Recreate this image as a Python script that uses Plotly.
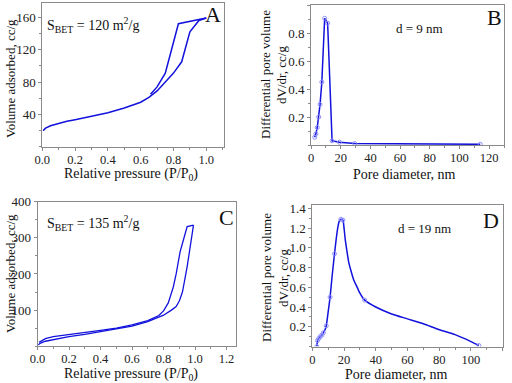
import plotly.graph_objects as go

W, H = 512, 383

# ---------------- data ----------------
# Panel A: N2 isotherm (sample 1)
a_ads_p = [0.005, 0.02, 0.05, 0.1, 0.15, 0.2, 0.3, 0.4, 0.5, 0.6, 0.65, 0.7, 0.75, 0.8, 0.85, 0.9, 0.955, 1.0]
a_ads_v = [20, 23, 26, 29, 31.5, 33.5, 37.5, 42, 48, 55, 61, 69, 80, 91, 105, 142, 156, 159]
a_des_p = [1.0, 0.83, 0.75, 0.70, 0.66]
a_des_v = [159, 152, 91, 74, 65]

# Panel B: pore size distribution (sample 1)
b_d = [2.5, 3.3, 4.2, 5.2, 6.1, 7.3, 9.2, 11.2, 14.2, 19.2, 29.5, 114]
b_dv = [0.055, 0.08, 0.125, 0.2, 0.29, 0.45, 0.905, 0.87, 0.03, 0.02, 0.01, 0.005]

# Panel C: N2 isotherm (sample 2)
c_ads_p = [0.005, 0.02, 0.05, 0.1, 0.2, 0.3, 0.4, 0.5, 0.6, 0.7, 0.75, 0.8, 0.85, 0.88, 0.9, 0.92, 0.95, 0.97, 0.99]
c_ads_v = [4, 9, 14, 19, 27, 33, 40, 47, 56, 68, 76, 86, 100, 110, 125, 150, 220, 280, 335]
c_des_p = [0.99, 0.95, 0.93, 0.905, 0.88, 0.862, 0.83, 0.8, 0.77, 0.7, 0.6, 0.5, 0.4, 0.3, 0.2, 0.1, 0.05, 0.01]
c_des_v = [335, 331, 300, 261, 200, 164, 120, 98, 85, 71, 59, 50, 44, 38, 33, 27, 21, 11]

# Panel D: pore size distribution (sample 2)
d_d = [2.9, 3.3, 4.0, 5.0, 6.0, 7.0, 8.0, 8.8, 10, 11.2, 12.6, 14, 15, 16, 17, 18, 19.3, 20, 20.8, 21.8,
       23, 24.5, 26, 28, 30, 33, 40, 50, 60, 70, 80, 90, 100, 105]
d_dv = [0.0, 0.06, 0.08, 0.10, 0.115, 0.14, 0.17, 0.21, 0.35, 0.5, 0.73, 0.94, 1.08, 1.2, 1.27, 1.29, 1.28, 1.2,
        1.08, 0.97, 0.85, 0.76, 0.68, 0.61, 0.54, 0.47, 0.40, 0.33, 0.28, 0.23, 0.17, 0.12, 0.05, 0.01]
d_mark_d = [2.9, 3.3, 4.0, 5.0, 6.0, 7.0, 8.8, 11.2, 14, 18, 19.3, 33, 105]
d_mark_dv = [0.0, 0.06, 0.08, 0.10, 0.115, 0.14, 0.21, 0.5, 0.94, 1.29, 1.28, 0.47, 0.01]

# ---------------- style ----------------
BLUE = "#1212dc"
MARK = "#8f8fff"
FONT = "Liberation Serif"
AX = "#8a8a8a"

def px_x(a, b):
    return [a / W, b / W]

def px_y(top, bottom):
    return [1 - bottom / H, 1 - top / H]

fig = go.Figure()

line = dict(color=BLUE, width=1.5)
fig.add_trace(go.Scatter(x=a_ads_p, y=a_ads_v, mode="lines", line=line, xaxis="x", yaxis="y"))
fig.add_trace(go.Scatter(x=a_des_p, y=a_des_v, mode="lines", line=line, xaxis="x", yaxis="y"))

fig.add_trace(go.Scatter(x=b_d, y=b_dv, mode="lines+markers", line=line,
                         marker=dict(symbol="circle-open", size=4, color=MARK, line=dict(width=1, color=MARK)),
                         xaxis="x2", yaxis="y2"))

fig.add_trace(go.Scatter(x=c_ads_p, y=c_ads_v, mode="lines", line=dict(color=BLUE, width=1.3), xaxis="x3", yaxis="y3"))
fig.add_trace(go.Scatter(x=c_des_p, y=c_des_v, mode="lines", line=dict(color=BLUE, width=1.3), xaxis="x3", yaxis="y3"))

fig.add_trace(go.Scatter(x=d_d, y=d_dv, mode="lines", line=dict(color=BLUE, width=1.5, shape="spline", smoothing=0.6),
                         xaxis="x4", yaxis="y4"))
fig.add_trace(go.Scatter(x=d_mark_d, y=d_mark_dv, mode="markers",
                         marker=dict(symbol="circle-open", size=4, color=MARK, line=dict(width=1, color=MARK)),
                         xaxis="x4", yaxis="y4"))

def axis(domain, rng, anchor, **kw):
    d = dict(domain=domain, range=rng, anchor=anchor, showgrid=False, zeroline=False, automargin=False,
             showline=True, linecolor=AX, linewidth=1, mirror=True,
             ticks="outside", ticklen=3, tickcolor=AX, tickwidth=1,
             tickfont=dict(family=FONT, size=13, color="#222"))
    d.update(kw)
    return d

XS = dict(ticklabelstandoff=-2, tickfont=dict(family=FONT, size=12.5, color="#222"))

fig.update_layout(
    template="none",
    width=W, height=H, margin=dict(l=0, r=0, t=0, b=0, pad=0),
    paper_bgcolor="white", plot_bgcolor="white", showlegend=False,
    xaxis=axis(px_x(42.3, 224), [0, 1.108], "y", tickvals=[0, 0.2, 0.4, 0.6, 0.8, 1.0],
               ticktext=["0.0", "0.2", "0.4", "0.6", "0.8", "1.0"],
               minor=dict(ticks="outside", ticklen=2, dtick=0.1, tick0=0, tickcolor=AX), **XS),
    yaxis=axis(px_y(2.7, 146.8), [0, 178], "x", tickvals=[40, 80, 120, 160],
               minor=dict(ticks="outside", ticklen=2, dtick=20, tick0=0, tickcolor=AX)),
    xaxis2=axis(px_x(311, 504), [0, 130], "y2", tickvals=[0, 20, 40, 60, 80, 100, 120],
                minor=dict(ticks="outside", ticklen=2, dtick=10, tick0=0, tickcolor=AX), **XS),
    yaxis2=axis(px_y(5, 145), [0, 1.0], "x2", tickvals=[0.2, 0.4, 0.6, 0.8, 1.0],
                ticktext=["0.2", "0.4", "0.6", "0.8", "1.0"],
                minor=dict(ticks="outside", ticklen=2, dtick=0.1, tick0=0, tickcolor=AX)),
    xaxis3=axis(px_x(37.5, 235.7), [0, 1.258], "y3", tickvals=[0, 0.2, 0.4, 0.6, 0.8, 1.0, 1.2],
                ticktext=["0.0", "0.2", "0.4", "0.6", "0.8", "1.0", "1.2"],
                minor=dict(ticks="outside", ticklen=2, dtick=0.1, tick0=0, tickcolor=AX), **XS),
    yaxis3=axis(px_y(201.6, 346.3), [0, 400], "x3", tickvals=[100, 200, 300, 400],
                minor=dict(ticks="outside", ticklen=2, dtick=50, tick0=0, tickcolor=AX)),
    xaxis4=axis(px_x(312.3, 502.7), [0, 120], "y4", tickvals=[0, 20, 40, 60, 80, 100, 120],
                minor=dict(ticks="outside", ticklen=2, dtick=10, tick0=0, tickcolor=AX), **XS),
    yaxis4=axis(px_y(205, 346.5), [0, 1.434], "x4", tickvals=[0.2, 0.4, 0.6, 0.8, 1.0, 1.2, 1.4],
                ticktext=["0.2", "0.4", "0.6", "0.8", "1.0", "1.2", "1.4"],
                minor=dict(ticks="outside", ticklen=2, dtick=0.1, tick0=0, tickcolor=AX)),
)

def ann(text, x, y, size, angle=0, xanchor="center", yanchor="middle"):
    fig.add_annotation(text=text, x=x / W, y=1 - y / H, xref="paper", yref="paper",
                       showarrow=False, textangle=angle, xanchor=xanchor, yanchor=yanchor,
                       font=dict(family=FONT, size=size, color="#111"))

TS = 14
# axis titles
ann("Relative pressure (P/P<sub>0</sub>)", 131, 175, TS)
ann("Volume adsorbed, cc/g", 10, 79, 13, angle=-90)
ann("Pore diameter, nm", 404, 174, TS)
ann("Differential pore volume", 266, 75, 13, angle=-90)
ann("dV/dr, cc/g", 282, 75, 13, angle=-90)
ann("Relative pressure (P/P<sub>0</sub>)", 131, 374, TS)
ann("Volume adsorbed, cc/g", 10, 274, 13, angle=-90)
ann("Pore diameter, nm", 396, 374, TS)
ann("Differential pore volume", 266, 278, 13, angle=-90)
ann("dV/dr, cc/g", 283, 278, 13, angle=-90)

# in-plot labels
ann("S<sub>BET</sub> = 120 m<sup>2</sup>/g", 45, 25, 14, xanchor="left")
ann("S<sub>BET</sub> = 135 m<sup>2</sup>/g", 45, 223, 14, xanchor="left")
ann("d = 9 nm", 419, 28, 13)
ann("d = 19 nm", 424, 228, 13)
ann("A", 213, 15, 22)
ann("B", 494, 17, 22)
ann("C", 226, 217, 22)
ann("D", 491, 220, 22)

fig.write_html("out.html", config={"displayModeBar": False},
               post_script="document.body.style.margin='0';document.body.style.overflow='hidden';")
